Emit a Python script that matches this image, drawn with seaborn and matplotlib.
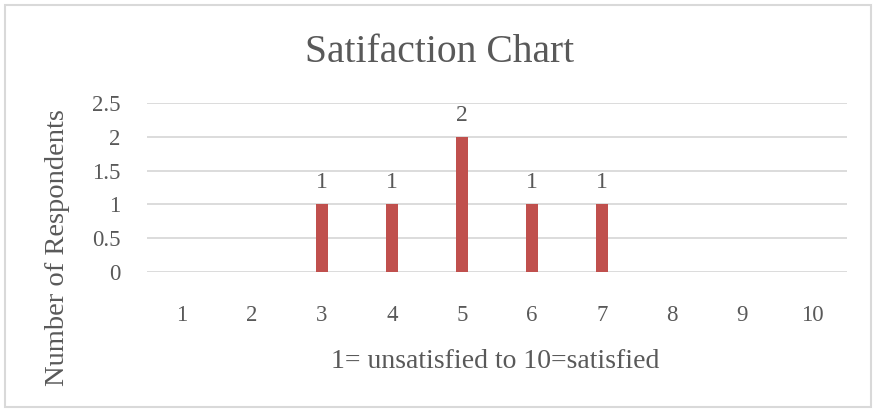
import matplotlib
matplotlib.use("Agg")
import matplotlib.pyplot as plt
import seaborn as sns
import pandas as pd
from matplotlib.patches import Rectangle

# Data
categories = ["1", "2", "3", "4", "5", "6", "7", "8", "9", "10"]
respondents = [0, 0, 1, 1, 2, 1, 1, 0, 0, 0]
y_ticks = [0, 0.5, 1, 1.5, 2, 2.5]
y_tick_labels = ["0", "0.5", "1", "1.5", "2", "2.5"]
title = "Satifaction Chart"
x_label = "1= unsatisfied to 10=satisfied"
y_label = "Number of Respondents"

df = pd.DataFrame({"score": categories, "count": respondents})

sns.set_theme(style="white")
plt.rcParams["font.family"] = ["Liberation Serif", "DejaVu Serif"]

text_color = "#595959"
grid_color = "#D9D9D9"
bar_color = "#C0504D"

fig = plt.figure(figsize=(8.75, 4.12), dpi=100)
ax = fig.add_axes([147 / 875, 1 - 272 / 412, 700 / 875, (272 - 103) / 412])

sns.barplot(data=df, x="score", y="count", order=categories, color=bar_color,
            width=0.176, saturation=1, ax=ax, zorder=3, linewidth=0)

ax.set_ylim(0, 2.5)
ax.set_xlim(-0.5, len(categories) - 0.5)
ax.set_yticks(y_ticks)
ax.set_yticklabels(y_tick_labels)
for y in y_ticks:
    ax.axhline(y, color=grid_color, lw=1.3, zorder=1)
for s in ax.spines.values():
    s.set_visible(False)
ax.tick_params(axis="x", length=0, pad=24, labelsize=16.5, labelcolor=text_color)
ax.tick_params(axis="y", length=0, pad=19, labelsize=16.5, labelcolor=text_color)
ax.set_xlabel("")
ax.set_ylabel("")

for i, v in enumerate(respondents):
    if v > 0:
        ax.annotate(str(v), (i, v), xytext=(0, 8), textcoords="offset points",
                    ha="center", va="bottom", fontsize=17, color=text_color)

fig.text(440 / 875, 1 - 52 / 412, title, ha="center", va="center",
         fontsize=28.5, color=text_color)
fig.text(495 / 875, 1 - 362 / 412, x_label, ha="center", va="center",
         fontsize=20, color=text_color)
fig.text(58 / 875, 1 - 248 / 412, y_label, ha="center", va="center",
         rotation=90, fontsize=20.5, color=text_color)

fig.patches.append(Rectangle((5 / 875, 5 / 412), 866 / 875, 402 / 412,
                             transform=fig.transFigure, fill=False,
                             edgecolor=grid_color, lw=1.5))

fig.savefig("out.png", dpi=100)
